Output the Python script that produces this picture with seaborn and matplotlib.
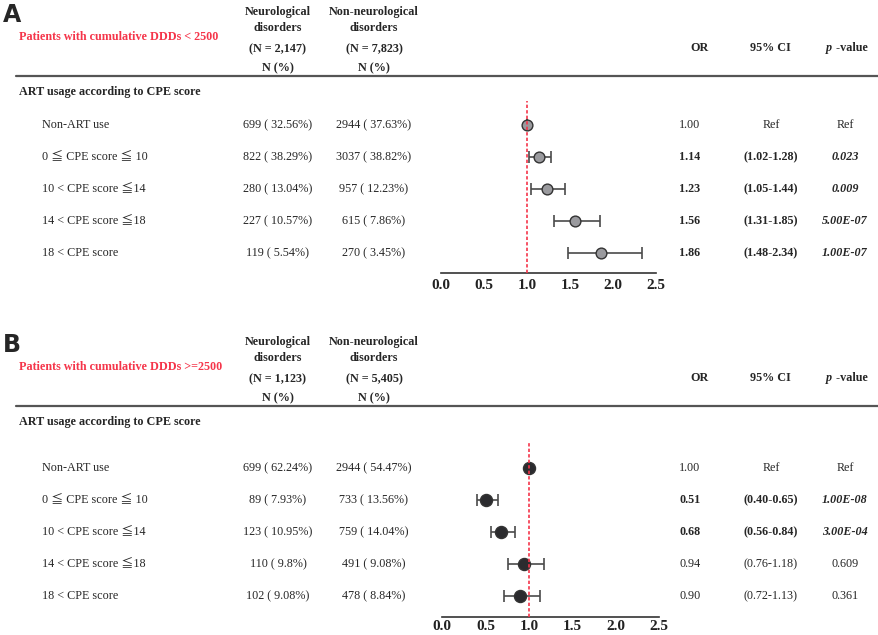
import numpy as np
import matplotlib
matplotlib.use('Agg')
import matplotlib.pyplot as plt
import seaborn as sns

sns.set_style('white')
plt.rcParams['font.family'] = ['Liberation Serif', 'DejaVu Serif', 'Noto Sans CJK JP']

RED = '#F5354A'
W, H = 879, 635

# ── Данные ──────────────────────────────────────────────────────────────────
row_labels = ['Non-ART use', '0 \u2266 CPE score \u2266 10', '10 < CPE score \u226614',
              '14 < CPE score \u226618', '18 < CPE score']

# Панель A: cumulative DDDs < 2500
neuro_a = ['699 ( 32.56%)', '822 ( 38.29%)', '280 ( 13.04%)', '227 ( 10.57%)', '119 ( 5.54%)']
nonneuro_a = ['2944 ( 37.63%)', '3037 ( 38.82%)', '957 ( 12.23%)', '615 ( 7.86%)', '270 ( 3.45%)']
or_a = [1.00, 1.14, 1.23, 1.56, 1.86]
lo_a = [1.00, 1.02, 1.05, 1.31, 1.48]
hi_a = [1.00, 1.28, 1.44, 1.85, 2.34]
p_a = ['Ref', '0.023', '0.009', '5.00E-07', '1.00E-07']
sig_a = [False, True, True, True, True]

# Панель B: cumulative DDDs >= 2500
neuro_b = ['699 ( 62.24%)', '89 ( 7.93%)', '123 ( 10.95%)', '110 ( 9.8%)', '102 ( 9.08%)']
nonneuro_b = ['2944 ( 54.47%)', '733 ( 13.56%)', '759 ( 14.04%)', '491 ( 9.08%)', '478 ( 8.84%)']
or_b = [1.00, 0.51, 0.68, 0.94, 0.90]
lo_b = [1.00, 0.40, 0.56, 0.76, 0.72]
hi_b = [1.00, 0.65, 0.84, 1.18, 1.13]
p_b = ['Ref', '1.00E-08', '3.00E-04', '0.609', '0.361']
sig_b = [False, True, True, False, False]

xticks = [0.0, 0.5, 1.0, 1.5, 2.0, 2.5]

fig = plt.figure(figsize=(W / 100, H / 100), dpi=100)


def txt(x, y, s, **kw):
    kw.setdefault('va', 'center')
    kw.setdefault('fontsize', 8.7)
    fig.text(x / W, 1 - y / H, s, **kw)


def panel(letter, y0, title, n_neuro, n_non, neuro, nonneuro, ors, los, his, ps, sig,
          rows_y, ax_box, mcolor, msize, tick_pad):
    # ── Заголовок таблицы ──
    txt(3, y0 + 15, letter, fontsize=17, fontweight='bold', family='DejaVu Sans')
    txt(19, y0 + 37, title, color=RED, fontweight='bold')
    for cx, l1, l2, nn in [(278, 'Neurological', 'disorders', n_neuro),
                           (374, 'Non-neurological', 'disorders', n_non)]:
        txt(cx, y0 + 12, l1, ha='center', fontweight='bold')
        txt(cx, y0 + 28, l2, ha='center', fontweight='bold')
        txt(cx, y0 + 49, nn, ha='center', fontweight='bold')
        txt(cx, y0 + 68, 'N (%)', ha='center', fontweight='bold')
    txt(700, y0 + 48, 'OR', ha='center', fontweight='bold')
    txt(770, y0 + 48, '95% CI', ha='center', fontweight='bold')
    txt(832, y0 + 48, 'p', ha='right', fontweight='bold', style='italic')
    txt(833, y0 + 48, ' -value', ha='left', fontweight='bold')
    fig.add_artist(plt.Line2D([16 / W, 1], [1 - (y0 + 76) / H] * 2,
                              color='#555555', lw=1.6))
    txt(19, y0 + 92, 'ART usage according to CPE score', fontweight='bold')

    # ── Строки таблицы ──
    for i, ry in enumerate(rows_y):
        txt(42, ry, row_labels[i])
        txt(278, ry, neuro[i], ha='center')
        txt(374, ry, nonneuro[i], ha='center')
        fw = 'bold' if sig[i] else 'normal'
        txt(690, ry, f'{ors[i]:.2f}', ha='center', fontweight=fw)
        ci = 'Ref' if ps[i] == 'Ref' else f'({los[i]:.2f}-{his[i]:.2f})'
        txt(771, ry, ci, ha='center', fontweight=fw)
        txt(845, ry, ps[i], ha='center', fontweight=fw,
            style='italic' if sig[i] else 'normal')

    # ── Forest plot ──
    left, right, top, bottom = ax_box
    ax = fig.add_axes([left / W, 1 - bottom / H, (right - left) / W, (bottom - top) / H])
    ax.patch.set_alpha(0)
    step = rows_y[1] - rows_y[0]
    yidx = np.arange(len(ors))
    ax.set_ylim(len(ors) - 1 + (bottom - rows_y[-1]) / step, -(rows_y[0] - top) / step)
    ax.set_xlim(0, 2.5)
    ors_arr = np.array(ors)
    ax.errorbar(ors_arr, yidx, xerr=[ors_arr - np.array(los), np.array(his) - ors_arr],
                fmt='none', ecolor='#4a4a4a', elinewidth=1.2, capsize=4, capthick=1.2, zorder=2)
    sns.scatterplot(x=ors, y=yidx, ax=ax, color=mcolor, s=msize,
                    edgecolor='#333333', linewidth=1.0, zorder=3, legend=False)
    ax.axvline(1.0, color=RED, lw=1.2, ls=(0, (2, 1.3)), zorder=4)
    for sp in ['top', 'right', 'left']:
        ax.spines[sp].set_visible(False)
    ax.spines['bottom'].set_color('#333333')
    ax.spines['bottom'].set_linewidth(1.2)
    ax.set_yticks([])
    ax.set_xticks(xticks)
    ax.set_xticklabels([f'{t:.1f}' for t in xticks], fontsize=11, fontweight='bold')
    ax.tick_params(axis='x', direction='in', length=3, width=1, pad=tick_pad, colors='#222222')
    ax.set_xlabel('')
    ax.set_ylabel('')
    return ax


panel('A', 0, 'Patients with cumulative DDDs < 2500', '(N = 2,147)', '(N = 7,823)',
      neuro_a, nonneuro_a, or_a, lo_a, hi_a, p_a, sig_a,
      [125, 157, 189, 221, 253], (441, 656, 101, 273), '#9a9a9e', 60, 4.5)

panel('B', 330, 'Patients with cumulative DDDs >=2500', '(N = 1,123)', '(N = 5,405)',
      neuro_b, nonneuro_b, or_b, lo_b, hi_b, p_b, sig_b,
      [468, 500, 532, 564, 596], (442, 659, 443, 617), '#2b2b2e', 75, 2)

fig.savefig('out.png', dpi=100)
